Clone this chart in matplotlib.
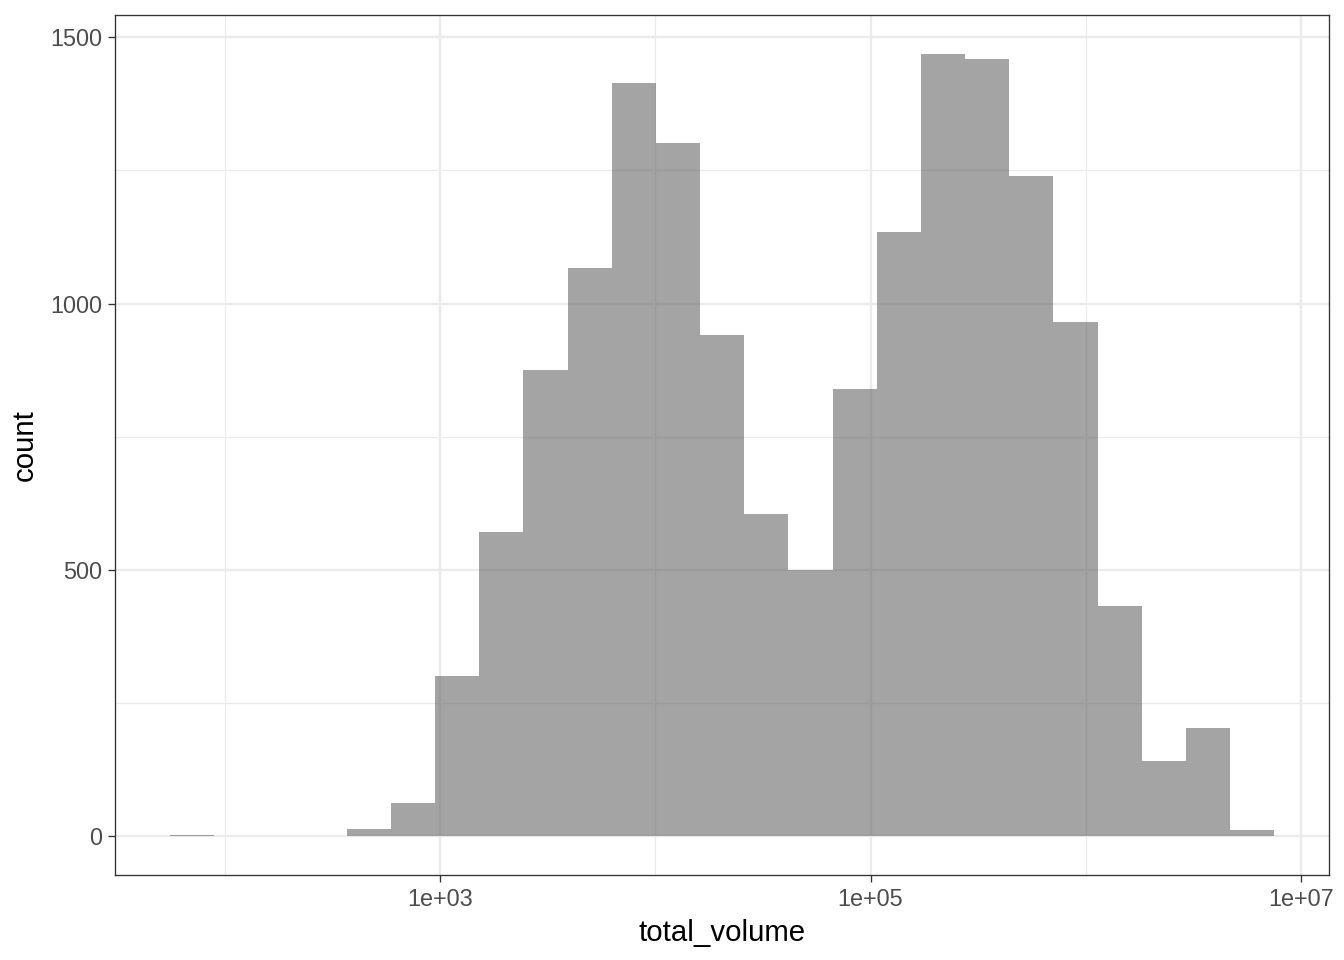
import numpy as np
import matplotlib.pyplot as plt
from matplotlib.ticker import FixedLocator, FuncFormatter

# histogram counts (25 bins, log10 scale)
counts = [1, 0, 0, 0, 13, 61, 300, 570, 876, 1066, 1415, 1302, 940, 604, 499,
          840, 1135, 1469, 1460, 1240, 965, 431, 140, 202, 11]
bin_start = 1.7456   # log10 of first bin edge
bin_width = 0.2052   # width of one bin in log10 units

x_major = [1e3, 1e5, 1e7]
x_minor = [1e2, 1e4, 1e6]
y_major = [0, 500, 1000, 1500]
y_minor = [250, 750, 1250]

plt.rcParams['font.family'] = ['Liberation Sans', 'DejaVu Sans']

fig = plt.figure(figsize=(7, 5), dpi=192)
ax = fig.add_axes([115 / 1344, (960 - 875) / 960, (1329 - 115) / 1344, (875 - 15) / 960])

# gridlines first so the translucent bars sit on top
for v in x_minor:
    ax.axvline(v, color='#EBEBEB', lw=0.45, zorder=0)
for v in y_minor:
    ax.axhline(v, color='#EBEBEB', lw=0.45, zorder=0)
for v in x_major:
    ax.axvline(v, color='#EBEBEB', lw=0.9, zorder=0)
for v in y_major:
    ax.axhline(v, color='#EBEBEB', lw=0.9, zorder=0)

edges = 10 ** (bin_start + bin_width * np.arange(len(counts) + 1))
left = edges[:-1]
widths = edges[1:] - edges[:-1]
ax.bar(left, counts, width=widths, align='edge', color='#595959', alpha=0.55,
       linewidth=0, zorder=2)

ax.set_xscale('log')
ax.set_xlim(10 ** 1.490, 10 ** 7.130)
ax.set_ylim(-73.5, 1542)

ax.xaxis.set_major_locator(FixedLocator(x_major))
ax.xaxis.set_minor_locator(FixedLocator([]))
ax.xaxis.set_major_formatter(FuncFormatter(lambda v, p: '1e+%02d' % int(round(np.log10(v)))))
ax.yaxis.set_major_locator(FixedLocator(y_major))

ax.tick_params(axis='both', which='major', length=2.75, width=0.5, color='#333333',
               labelsize=8.8, labelcolor='#4D4D4D', pad=2.2)
for s in ax.spines.values():
    s.set_color('#333333')
    s.set_linewidth(0.5)

ax.set_xlabel('total_volume', fontsize=11, labelpad=3)
ax.set_ylabel('count', fontsize=11, labelpad=4)

fig.savefig('out.png', dpi=192)
